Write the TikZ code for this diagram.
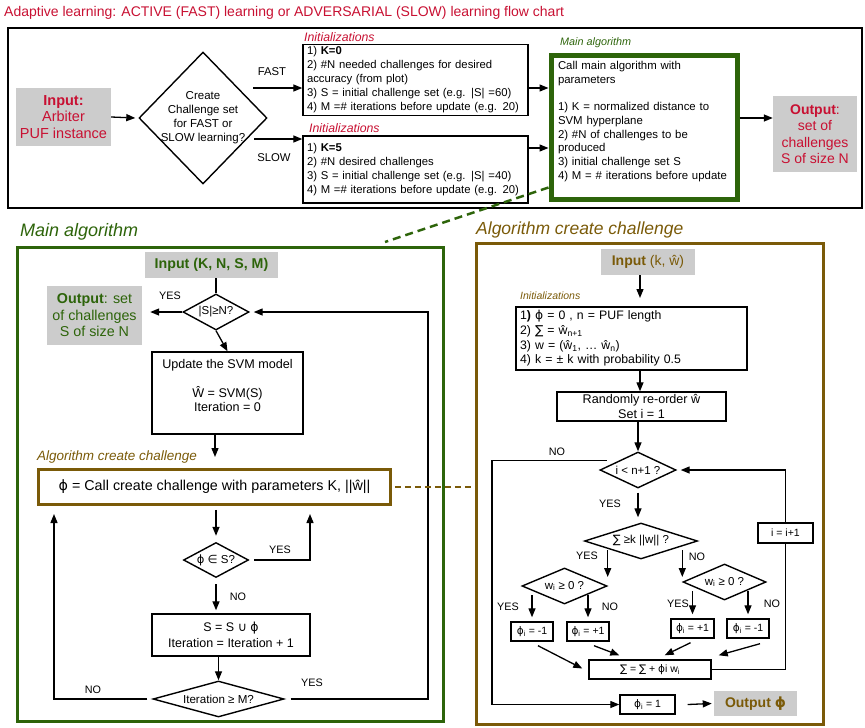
\documentclass[tikz,border=0pt]{standalone}
\usepackage{fontspec}
\setmainfont{Liberation Sans}
\newfontfamily\dejavu{DejaVu Sans}
\usetikzlibrary{shapes.geometric,arrows.meta,calc}
\definecolor{tred}{RGB}{200,16,50}
\definecolor{tgreen}{RGB}{45,100,10}
\definecolor{tbrown}{RGB}{122,90,8}
\definecolor{tgray}{RGB}{204,204,204}
\newcommand\myphi{{\dejavu ϕ}}
\newcommand\mysum{{\dejavu ∑}}
\newcommand\fs[2]{\fontsize{#1}{#2}\selectfont}
\tikzset{
  box/.style={draw, line width=1.4pt, inner sep=2pt, align=center},
  gbox/.style={fill=tgray, inner sep=0pt, align=center},
  dia/.style={diamond, draw, line width=1.4pt, inner sep=-14pt, align=center},
  sdia/.style={dia, font=\fs{11.5}{13}},
  tiny/.style={draw, line width=1.4pt, inner sep=0pt, font=\fs{10.5}{12}},
  arr/.style={-{Triangle[length=9pt,width=7pt]}, line width=1.3pt},
  lbl/.style={inner sep=0pt, font=\fs{10.8}{12}},
  ttl/.style={anchor=west, inner sep=0pt, font=\itshape\fs{17.5}{19}},
}
\begin{document}
\begin{tikzpicture}[x=1pt,y=-1pt]
\useasboundingbox (0,0) rectangle (865,728);

% ---------- title and top frame ----------
\node[anchor=west, inner sep=0, text=tred, font=\fs{14}{16}] (title) at (4,13)
  {Adaptive learning: ACTIVE (FAST) learning or ADVERSARIAL (SLOW) learning flow chart};
\node[draw, line width=2.6pt, minimum width=854, minimum height=180, inner sep=0] (frame) at (435,118) {};

\node[gbox, minimum width=95, minimum height=58, text=tred, font=\fs{14.5}{16.5}] (inp) at (63.5,117)
  {\textbf{Input:}\\Arbiter\\PUF instance};
\node[dia, minimum width=128, minimum height=132, font=\fs{11.5}{14}] (ccs) at (203,118)
  {Create\\Challenge set\\for FAST or\\SLOW learning?};
\draw[arr] (inp.east) -- ([xshift=-3pt]ccs.west);

\node[box, inner xsep=4pt, minimum width=225, minimum height=70, text width=217, align=left, font=\fs{11.3}{14}] (ia) at (415.5,80)
  {1) \textbf{K=0}\\2) \#N needed challenges for desired\\accuracy (from plot)\\3) S = initial challenge set (e.g. |S| =60)\\4) M =\# iterations before update (e.g. 20)};
\node[anchor=west, inner sep=0, text=tred, font=\itshape\fs{12.3}{14}] (la) at (304,37) {Initializations};

\node[box, inner xsep=4pt, minimum width=225, minimum height=67, text width=217, align=left, font=\fs{11.3}{14}] (ib) at (415.5,169.5)
  {1) \textbf{K=5}\\2) \#N desired challenges\\3) S = initial challenge set (e.g. |S| =40)\\4) M =\# iterations before update (e.g. 20)};
\node[anchor=west, inner sep=0, text=tred, font=\itshape\fs{12.3}{14}] (lb) at (309,128) {Initializations};

\coordinate (fa) at (253,88);
\draw[arr] (fa) -- (fa -| ia.west);
\coordinate (sl) at (254,139);
\draw[arr] (sl) -- (sl -| ib.west);
\node[lbl, font=\fs{11.3}{13}] (tfast) at (272,72) {FAST};
\node[lbl, font=\fs{11.3}{13}] (tslow) at (274,158) {SLOW};

\node[draw=tgreen, line width=5pt, minimum width=186, minimum height=144, inner sep=0, text width=172, align=left, font=\fs{11.4}{13.75}] (mg) at (644,127)
  {Call main algorithm with\\parameters\\[13.75pt]1) K = normalized distance to\\SVM hyperplane\\2) \#N of challenges to be\\produced\\3) initial challenge set S\\4) M = \# iterations before update\\ \mbox{}};
\node[anchor=west, inner sep=0, text=tgreen, font=\itshape\fs{10.8}{12}] (lmg) at (560,43) {Main algorithm};

\draw[arr] ([yshift=-8pt]ia.east) -- ([yshift=-8pt]ia.east -| mg.west);
\draw[arr] ([yshift=21.5pt]ib.east) -- ([yshift=21.5pt]ib.east -| mg.west);

\node[gbox, minimum width=84, minimum height=76, text=tred, font=\fs{14}{16.5}] (out) at (815,134)
  {\textbf{Output}:\\set of\\challenges\\S of size N};
\draw[arr] ([yshift=9pt]mg.east) -- ([yshift=9pt]mg.east -| out.west);

% ---------- left: main algorithm ----------
\node[draw=tgreen, line width=3pt, minimum width=426, minimum height=474, inner sep=0] (lm) at (230.5,484.5) {};
\node[ttl, text=tgreen, font=\itshape\fs{18}{20}] (llm) at (20,232) {Main algorithm};
\draw[tgreen, line width=2.5pt, dash pattern=on 8pt off 5pt] ([yshift=14pt]mg.south west) -- ([xshift=-60pt,yshift=4pt]lm.north east);

\node[gbox, minimum width=133, minimum height=26, text=tgreen, font=\bfseries\fs{14.2}{16}] (ink) at (211.5,265) {Input (K, N, S, M)};
\node[sdia, minimum width=66, minimum height=36] (sn) at (216,312) {|S|≥N?};
\draw[line width=1.3pt] (ink.south -| sn.north) -- (sn.north);

\node[gbox, minimum width=95, minimum height=59, text=tgreen, font=\fs{14.3}{16.5}] (outl) at (94.5,315.5)
  {\textbf{Output}: set\\of challenges\\S of size N};
\draw[arr] (sn.west) -- ($(sn.west -| outl.east)+(8,0)$);
\node[lbl] (ty1) at (170,296) {YES};

\node[box, minimum width=151, minimum height=82, font=\fs{12.6}{14.5}] (upd) at (227.5,393)
  {Update the SVM model\\[14pt]Ŵ = SVM(S)\\Iteration = 0\\ \mbox{}};
\draw[arr] (sn.south) -- (upd.north);
\coordinate (c1) at (215,457);
\draw[arr] (upd.south -| c1) -- (c1);

\node[anchor=west, inner sep=0, text=tbrown, font=\itshape\fs{13.5}{15}] (lcc) at (37,457) {Algorithm create challenge};
\node[draw=tbrown, line width=2.5pt, minimum width=352, minimum height=35, inner sep=0, font=\fs{14.3}{16}] (call) at (214.5,487)
  {\myphi{} = Call create challenge with parameters K, ||ŵ||};

\node[sdia, minimum width=65, minimum height=35] (pin) at (216,560) {\myphi{} {\dejavu ∈} S?};
\draw[arr] ($(call.south -| pin.north)+(0,4)$) -- ($(pin.north)+(0,-6)$);
\coordinate (yu) at (310,514);
\draw[arr] ([xshift=5pt]pin.east) -| (yu);
\node[lbl] (ty2) at (280,550) {YES};

\node[box, minimum width=158, minimum height=42, font=\fs{12.5}{16}] (su) at (231,635)
  {S = S {\dejavu ∪} \myphi\\Iteration = Iteration + 1};
\draw[arr] ($(pin.south)+(0,6)$) -- ($(pin.south |- su.north)+(0,-3)$);
\node[lbl] (tn1) at (238,597) {NO};

\node[dia, minimum width=131, minimum height=36, font=\fs{11.6}{13}] (itm) at (218.5,699) {Iteration ≥ M?};
\draw[arr] (su.south -| itm.north) -- (itm.north);
\coordinate (nu) at (54,514);
\draw[arr] ([xshift=-5pt]itm.west) -| (nu);
\node[lbl] (tn2) at (93,690) {NO};
\coordinate (rr) at (428,400);
\draw[arr] ([xshift=6pt]itm.east) -| (rr |- sn.east) -- ([xshift=4pt]sn.east);
\node[lbl] (ty3) at (312,683) {YES};

% ---------- right: algorithm create challenge ----------
\node[draw=tbrown, line width=3pt, minimum width=347, minimum height=481, inner sep=0] (rb) at (650,484) {};
\node[ttl, text=tbrown] (lrb) at (476,230) {Algorithm create challenge};
\draw[tbrown, line width=2.2pt, dash pattern=on 6pt off 4pt] ([xshift=3pt]call.east) -- (call.east -| rb.west);

\node[gbox, minimum width=94, minimum height=26, text=tbrown, font=\fs{14}{16}] (inr) at (648,262) {\textbf{Input} (k, ŵ)};
\coordinate (ax) at (640,298);
\draw[arr] (inr.south -| ax) -- (ax);
\node[anchor=west, inner sep=0, text=tbrown, font=\itshape\fs{10.5}{12}] (lin) at (520,296) {Initializations};

\node[box, inner xsep=4pt, minimum width=231, minimum height=63, text width=223, align=left, font=\fs{12.3}{14.7}] (init) at (631.5,338.5)
  {1\textbf{)} \myphi{} = 0 , n = PUF length\\2) \mysum{} = ŵ\textsubscript{n+1}\\3) w = (ŵ\textsubscript{1}, … ŵ\textsubscript{n})\\4) k = ± k with probability 0.5};

\node[box, minimum width=169, minimum height=29, font=\fs{12.6}{14.5}] (ro) at (641.5,406.5) {Randomly re-order ŵ\\Set i = 1};
\draw[arr] (init.south -| ax) -- (ro.north -| ax);

\node[sdia, minimum width=76, minimum height=36] (lt) at (638,470) {i < n+1 ?};
\draw[arr] (ro.south -| lt.north) -- (lt.north);

\node[tiny, minimum width=55, minimum height=19] (p1) at (647.5,704.5) {\myphi\textsubscript{i} = 1};
\coordinate (nl) at (492,600);
\draw[arr] ([xshift=-12pt]lt.north west) -| (nl |- p1.west) -- (p1.west);
\node[lbl] (tn3) at (557,452) {NO};

\node[sdia, minimum width=113, minimum height=36] (sk) at (641,541) {\mysum{} ≥k ||w|| ?};
\draw[arr] ($(lt.south)+(0,4)$) -- ($(lt.south |- sk.north)+(0,-5)$);
\node[lbl] (ty4) at (610,504) {YES};

\node[sdia, minimum width=85, minimum height=36] (wl) at (564.5,586) {w\textsubscript{i} ≥ 0 ?};
\node[sdia, minimum width=83, minimum height=36] (wr) at (724.5,582) {w\textsubscript{i} ≥ 0 ?};
\draw[arr] (sk.south west -| wl.east) -- ($(wl.east)+(0,-9)$);
\draw[arr] (sk.south east -| wr.west) -- ($(wr.west)+(0,-5)$);
\node[lbl] (ty5) at (587,556) {YES};
\node[lbl] (tn4) at (697,557) {NO};

\node[tiny, minimum width=42, minimum height=19] (b1) at (532,631.5) {\myphi\textsubscript{i} = -1};
\node[tiny, minimum width=42, minimum height=19] (b2) at (588,631.5) {\myphi\textsubscript{i} = +1};
\node[tiny, minimum width=43, minimum height=19] (b3) at (692.5,628.5) {\myphi\textsubscript{i} = +1};
\node[tiny, minimum width=42, minimum height=19] (b4) at (748,628.5) {\myphi\textsubscript{i} = -1};
\draw[arr] (wl.south west -| b1.north) -- ([yshift=4pt]b1.north);
\draw[arr] (wl.south east -| b2.north) -- ([yshift=4pt]b2.north);
\draw[arr] (wr.south west -| b3.north) -- ([yshift=4pt]b3.north);
\draw[arr] (wr.south east -| b4.north) -- ([yshift=4pt]b4.north);
\node[lbl] (ty6) at (508,607) {YES};
\node[lbl] (tn5) at (610,607) {NO};
\node[lbl] (ty7) at (678,604) {YES};
\node[lbl] (tn6) at (772,604) {NO};

\node[tiny, minimum width=122, minimum height=19] (sb) at (650,669.5)
  {\mysum{} = \mysum{} + \myphi i w\textsubscript{i}};
\draw[arr] ($(b1.south)+(6,4)$) -- ($(sb.west)+(-6,-1)$);
\draw[arr] ($(b2.south)+(6,4)$) -- ($(sb.north west)+(31,-4)$);
\draw[arr] ($(b3.south)+(-2,4)$) -- ($(sb.north east)+(-47,-4)$);
\draw[arr] ($(b4.south)+(12,5)$) -- ($(sb.north east)+(7,-4)$);

\node[tiny, minimum width=55, minimum height=20] (ii) at (785.5,533) {i = i+1};
\draw[line width=1.3pt] (sb.east) -| (ii.south);
\draw[arr] (ii.north) |- ([xshift=4pt]lt.east);

\node[gbox, minimum width=83, minimum height=25, text=tbrown, font=\bfseries\fs{14}{16}] (outr) at (755.5,703.5) {Output \myphi};
\draw[arr] ([xshift=12pt]p1.east) -- ([xshift=-2pt]outr.west);
\end{tikzpicture}
\end{document}
